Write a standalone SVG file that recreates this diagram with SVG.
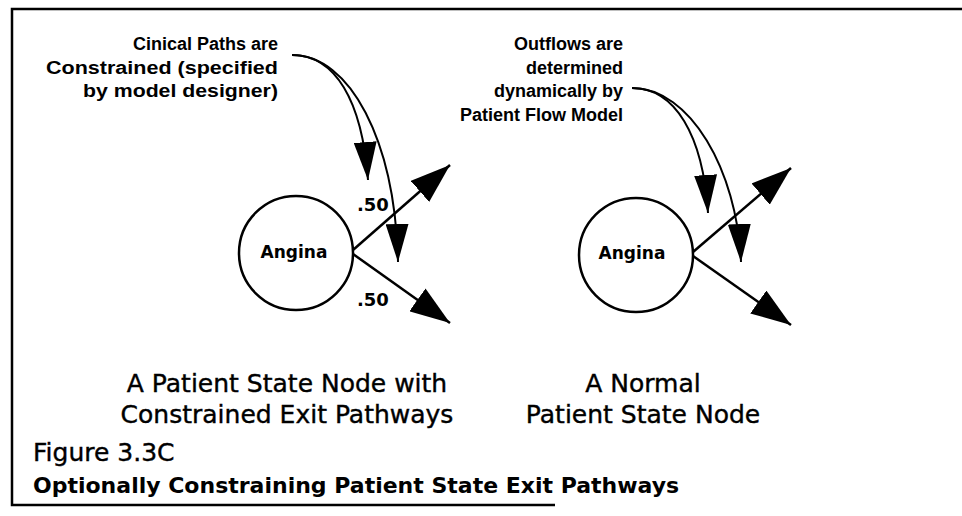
<svg xmlns="http://www.w3.org/2000/svg" width="962" height="516" viewBox="0 0 962 516">
<style>
.frame{stroke:#000;stroke-width:2.5;fill:none}
.node{fill:#fff;stroke:#000;stroke-width:2.5}
.edge{fill:none;stroke:#000;stroke-width:2.5}
.curve{fill:none;stroke:#000;stroke-width:2}
.ann{font-family:"Liberation Sans",Arial,sans-serif;font-weight:bold;font-size:18px;fill:#000}
.num{font-family:"DejaVu Sans",sans-serif;font-weight:bold;font-size:18px;fill:#000}
.lbl{font-family:"DejaVu Sans",sans-serif;font-weight:bold;font-size:17px;fill:#000}
.cap{font-family:"DejaVu Sans",sans-serif;font-size:25px;fill:#000;stroke:#000;stroke-width:0.4}
.title{font-family:"DejaVu Sans",sans-serif;font-weight:bold;font-size:22px;fill:#000}
</style>
<defs>
<marker id="big" markerWidth="40" markerHeight="28" refX="40" refY="14" orient="auto" markerUnits="userSpaceOnUse">
<path d="M0,0 L40,14 L0,28 Z" fill="#000"/>
</marker>
<marker id="small" markerWidth="38" markerHeight="23" refX="38" refY="11.5" orient="auto" markerUnits="userSpaceOnUse">
<path d="M0,0 L38,11.5 L0,23 Z" fill="#000"/>
</marker>
</defs>
<rect width="962" height="516" fill="#fff"/>
<g id="frame">
<path class="frame" d="M962,9 L12,9 L12,505 L555,505"/>
</g>
<g id="connectors">
<path class="edge" d="M353,250 L450,165" marker-end="url(#big)"/>
<path class="edge" d="M353,254 L450,323" marker-end="url(#big)"/>
<path class="edge" d="M693,252 L791,168" marker-end="url(#big)"/>
<path class="edge" d="M693,256 L791,325" marker-end="url(#big)"/>
<path class="curve" d="M292,55 C335,55 362,100 368,180" marker-end="url(#small)"/>
<path class="curve" d="M292,55 C350,55 395,140 398,262" marker-end="url(#small)"/>
<path class="curve" d="M632,88 C675,88 703,135 708,213" marker-end="url(#small)"/>
<path class="curve" d="M632,88 C690,88 737,170 741,262" marker-end="url(#small)"/>
</g>
<g id="node-angina-constrained">
<circle class="node" cx="296" cy="253" r="57"/>
<text class="lbl" x="294" y="258" text-anchor="middle">Angina</text>
</g>
<g id="node-angina-normal">
<circle class="node" cx="636" cy="255" r="57"/>
<text class="lbl" x="632" y="259" text-anchor="middle">Angina</text>
</g>
<g id="edge-labels">
<text class="num" x="357" y="211">.50</text>
<text class="num" x="357" y="306">.50</text>
</g>
<g id="annotation-constrained">
<text class="ann" x="278" y="50" text-anchor="end">Cinical Paths are</text>
<text class="ann" x="46" y="74" textLength="232" lengthAdjust="spacingAndGlyphs">Constrained (specified</text>
<text class="ann" x="83" y="97" textLength="195" lengthAdjust="spacingAndGlyphs">by model designer)</text>
</g>
<g id="annotation-normal">
<text class="ann" x="623" y="50" text-anchor="end">Outflows are</text>
<text class="ann" x="623" y="74" text-anchor="end">determined</text>
<text class="ann" x="623" y="97" text-anchor="end">dynamically by</text>
<text class="ann" x="623" y="121" text-anchor="end">Patient Flow Model</text>
</g>
<g id="caption-constrained">
<text class="cap" text-anchor="middle" x="287" y="392">A Patient State Node with</text>
<text class="cap" text-anchor="middle" x="287" y="423">Constrained Exit Pathways</text>
</g>
<g id="caption-normal">
<text class="cap" text-anchor="middle" x="643" y="392">A Normal</text>
<text class="cap" text-anchor="middle" x="643" y="423">Patient State Node</text>
</g>
<g id="figure-title">
<text class="cap" x="33" y="461">Figure 3.3C</text>
<text class="title" x="33" y="493">Optionally Constraining Patient State Exit Pathways</text>
</g>
</svg>
